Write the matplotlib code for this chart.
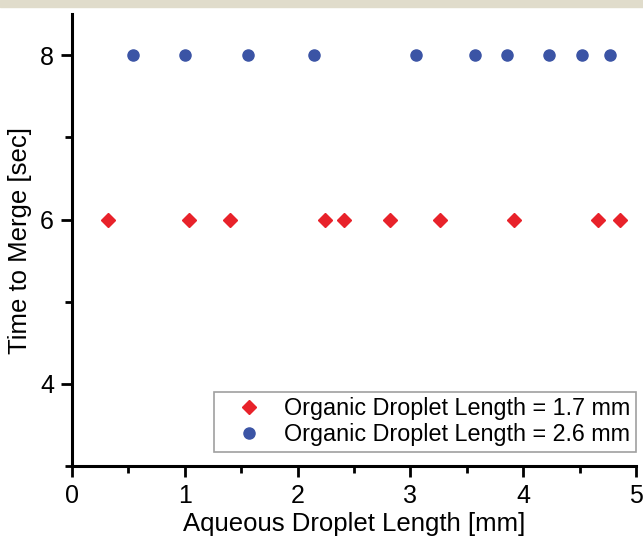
import matplotlib
matplotlib.use("Agg")
import matplotlib.pyplot as plt
from matplotlib.patches import Rectangle
from matplotlib.ticker import MultipleLocator

plt.rcParams["font.family"] = ["Liberation Sans", "DejaVu Sans"]

# aqueous droplet length [mm] vs time to merge [sec]
x_17 = [0.32, 1.04, 1.40, 2.24, 2.41, 2.82, 3.26, 3.92, 4.66, 4.86]
y_17 = [6, 6, 6, 6, 6, 6, 6, 6, 6, 6]
x_26 = [0.54, 1.00, 1.56, 2.15, 3.05, 3.57, 3.86, 4.23, 4.52, 4.77]
y_26 = [8, 8, 8, 8, 8, 8, 8, 8, 8, 8]

RED = "#e8222a"
BLUE = "#3b54a5"

fig = plt.figure(figsize=(6.43, 5.46), dpi=100)
fig.patches.append(Rectangle((0, 0.988), 1, 0.012, transform=fig.transFigure,
                             color="#e0dccb", zorder=0))
ax = fig.add_axes([0.112, 0.1465, 0.877, 0.8275])

ax.plot(x_17, y_17, "D", color=RED, markersize=7, linestyle="none",
        label="Organic Droplet Length = 1.7 mm")
ax.plot(x_26, y_26, "o", color=BLUE, markersize=8, linestyle="none",
        label="Organic Droplet Length = 2.6 mm")

ax.set_xlim(0, 5)
ax.set_ylim(3, 8.5)
ax.xaxis.set_major_locator(MultipleLocator(1))
ax.xaxis.set_minor_locator(MultipleLocator(0.5))
ax.set_yticks([4, 6, 8])
ax.set_yticks([3, 5, 7], minor=True)

for side in ("top", "right"):
    ax.spines[side].set_visible(False)
for side in ("left", "bottom"):
    ax.spines[side].set_linewidth(2.2)

ax.tick_params(which="major", direction="out", length=8, width=2, labelsize=18,
               pad=5)
ax.tick_params(which="minor", direction="out", length=5, width=2)

ax.set_xlabel("Aqueous Droplet Length [mm]", fontsize=18.5, labelpad=3)
ax.set_ylabel("Time to Merge [sec]", fontsize=18.5, labelpad=6)

leg = ax.legend(loc="lower right", fontsize=16.8, frameon=True, fancybox=False,
                edgecolor="#888888", handletextpad=0.25, handlelength=2.5,
                borderpad=0.25, labelspacing=0.12, borderaxespad=0,
                bbox_to_anchor=(1.0, 0.031))
leg.get_frame().set_linewidth(1.2)

fig.savefig("out.png", dpi=100)
